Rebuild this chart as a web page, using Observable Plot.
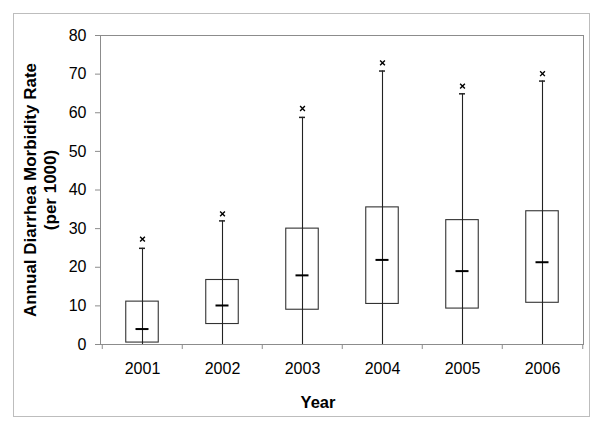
<!DOCTYPE html>
<html>
<head>
<meta charset="utf-8">
<script src="https://cdn.jsdelivr.net/npm/d3@7"></script>
<script src="https://cdn.jsdelivr.net/npm/@observablehq/plot@0.6"></script>
<style>
  body { margin: 0; background: #fff; }
  #wrap { position: relative; width: 600px; height: 429px; }
  #border { position: absolute; left: 13px; top: 13px; width: 575px; height: 402px; border: 1px solid #bdbdbd; pointer-events: none; }
</style>
</head>
<body>
<div id="wrap"><div id="border"></div></div>
<script>
const years = ["2001", "2002", "2003", "2004", "2005", "2006"];
const whiskerLow = [0, 0, 0, 0, 0, 0];
const q1 = [0.5, 5.3, 9.0, 10.5, 9.3, 10.8];
const median = [4.0, 10.1, 17.9, 21.9, 19.0, 21.3];
const q3 = [11.1, 16.7, 30.0, 35.5, 32.2, 34.5];
const whiskerHigh = [24.9, 32.0, 58.8, 70.8, 64.9, 68.2];
const outlier = [27.3, 33.8, 61.1, 72.9, 66.9, 70.1];
const yTicks = [0, 10, 20, 30, 40, 50, 60, 70, 80];

const data = years.map((y, i) => ({
  year: y, lo: whiskerLow[i], q1: q1[i], med: median[i], q3: q3[i], hi: whiskerHigh[i], out: outlier[i]
}));

const W = 600, H = 429, ML = 100, MR = 17, MT = 35, MB = 85;
const bw = (W - ML - MR) / years.length;
const font = "Arial, 'Liberation Sans', sans-serif";

const chart = Plot.plot({
  width: W, height: H,
  marginLeft: ML, marginRight: MR, marginTop: MT, marginBottom: MB,
  style: { fontFamily: font, fontSize: "16px", color: "#000", background: "transparent" },
  x: { domain: years, padding: 0, label: null },
  y: { domain: [0, 80], label: null },
  marks: [
    Plot.frame({ stroke: "#8c8c8c" }),
    Plot.axisY({ ticks: yTicks, tickSize: 5, tickPadding: 9, stroke: "#8c8c8c", fontSize: 16, label: null, color: "#000" }),
    Plot.axisX({ tickSize: 0, tickPadding: 18, fontSize: 16, label: null }),
    // category boundary ticks below the axis
    Plot.ruleX(years, { x: d => d, dx: -bw / 2, y1: 0, y2: -1.3, stroke: "#8c8c8c" }),
    Plot.ruleX([years[years.length - 1]], { x: d => d, dx: bw / 2, y1: 0, y2: -1.3, stroke: "#8c8c8c" }),
    // boxes
    Plot.barY(data, { x: "year", y1: "q1", y2: "q3", fill: "none", stroke: "#333", strokeWidth: 1.1, insetLeft: 23.75, insetRight: 23.75 }),
    // whiskers
    Plot.ruleX(data, { x: "year", y1: "lo", y2: "hi", stroke: "#222", strokeWidth: 1.1 }),
    Plot.tickY(data, { x: "year", y: "hi", stroke: "#222", strokeWidth: 1.5, inset: 37 }),
    // medians
    Plot.tickY(data, { x: "year", y: "med", stroke: "#000", strokeWidth: 2, inset: 33.5 }),
    // outliers
    Plot.dot(data, { x: "year", y: "out", symbol: "times", r: 2.3, stroke: "#000", strokeWidth: 1.4 }),
    // titles
    Plot.text(["Annual Diarrhea Morbidity Rate\n(per 1000)"], {
      frameAnchor: "left", textAnchor: "middle", dx: -61, rotate: -90, fontWeight: "bold", fontSize: 17, lineHeight: 1.2, fill: "#000"
    }),
    Plot.text(["Year"], { frameAnchor: "bottom", dx: -24, dy: 63, fontWeight: "bold", fontSize: 16.5, fill: "#000" })
  ]
});
document.getElementById("wrap").prepend(chart);
</script>
</body>
</html>
